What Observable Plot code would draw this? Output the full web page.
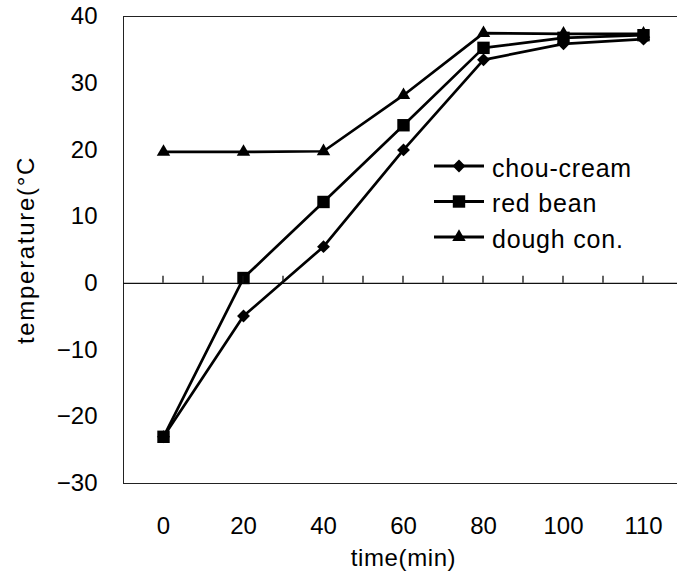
<!DOCTYPE html>
<html>
<head>
<meta charset="utf-8">
<script src="https://cdn.jsdelivr.net/npm/d3@7"></script>
<script src="https://cdn.jsdelivr.net/npm/@observablehq/plot@0.6"></script>
<style>
  html, body { margin: 0; padding: 0; background: white; }
</style>
</head>
<body>
<div id="chart"></div>
<script>
// ---- data ----
const times = ["0", "20", "40", "60", "80", "100", "110"];
const chouCream = [-23, -4.9, 5.5, 20.0, 33.5, 35.9, 36.6];
const redBean   = [-23, 0.8, 12.2, 23.7, 35.3, 36.8, 37.2];
const doughCon  = [19.7, 19.7, 19.8, 28.2, 37.5, 37.4, 37.4];
const seriesNames = ["chou-cream", "red bean", "dough con."];
const seriesSymbols = ["diamond2", "square", "triangle"];
const seriesRadius = [5.8, 7, 5];
const yTicks = [-30, -20, -10, 0, 10, 20, 30, 40];
const xLabel = "time(min)";
const yLabel = "temperature(°C";

const seriesValues = [chouCream, redBean, doughCon];
const rows = [];
seriesNames.forEach((name, s) => {
  seriesValues[s].forEach((v, i) => rows.push({series: name, i, value: v}));
});
const xIndex = d3.range(times.length);
// tick marks on the zero line: at each time and halfway between
const minorTicks = [];
for (let i = 0; i < times.length; i++) { minorTicks.push(i); minorTicks.push(i + 0.5); }

const font = "'Liberation Sans', Arial, Helvetica, sans-serif";

const marks = [
  Plot.frame({stroke: "#222", strokeWidth: 1}),
  Plot.ruleY([0], {stroke: "#111", strokeWidth: 1.3}),
  Plot.axisY(yTicks, {
    tickSize: 0, tickPadding: 26, fontSize: 24, label: null,
    tickFormat: d => d < 0 ? "\u2212" + Math.abs(d) : String(d)
  }),
  Plot.axisX(xIndex, {
    tickSize: 0, tickPadding: 33, fontSize: 24, label: null,
    tickFormat: i => times[i]
  }),
  Plot.text([yLabel], {frameAnchor: "left", text: d => d, rotate: -90, dx: -97, fontSize: 24, fill: "black", textAnchor: "middle", lineAnchor: "middle"}),
  Plot.text([xLabel], {frameAnchor: "bottom", text: d => d, dy: 74.5, fontSize: 24, fill: "black", textAnchor: "middle", lineAnchor: "middle"}),
  Plot.line(rows, {x: "i", y: "value", z: "series", stroke: "black", strokeWidth: 2.7}),
  ...seriesNames.map((name, s) =>
    Plot.dot(rows.filter(d => d.series === name), {
      x: "i", y: "value", symbol: () => seriesSymbols[s], r: seriesRadius[s], fill: "black", stroke: "none"
    })
  )
];

const plot = Plot.plot({
  width: 677,
  height: 577,
  marginLeft: 123,
  marginRight: -6,
  marginTop: 16,
  marginBottom: 94,
  style: {fontFamily: font, fontSize: "24px", background: "white", overflow: "hidden", color: "black"},
  x: {type: "linear", domain: [-0.5, times.length - 0.5], axis: null},
  y: {domain: [-30, 40], axis: null},
  symbol: {type: "identity"},
  marks
});

const svg = d3.select(plot);
svg.selectAll("text").filter(function() { return this.textContent === yLabel; })
  .attr("letter-spacing", "1.7px");
svg.selectAll("text").filter(function() { return this.textContent === xLabel; })
  .attr("letter-spacing", "0.6px");

// small upward ticks on the zero line, placed with the plot's own scales
const xs = plot.scale("x"), ys = plot.scale("y");
const y0 = ys.apply(0);
svg.append("g").attr("stroke", "#111").attr("stroke-width", 1.3)
  .selectAll("line").data(minorTicks).join("line")
  .attr("x1", d => xs.apply(d)).attr("x2", d => xs.apply(d))
  .attr("y1", y0).attr("y2", y0 - 7);

// legend (layout only)
const legend = svg.append("g").attr("font-family", font).attr("font-size", 25).attr("text-anchor", "start");
const symbolMap = {diamond2: d3.symbolDiamond2, square: d3.symbolSquare, triangle: d3.symbolTriangle};
seriesNames.forEach((name, s) => {
  const cy = 166 + s * 35.5;
  const g = legend.append("g").attr("transform", `translate(0,${cy})`);
  g.append("line").attr("x1", 434).attr("x2", 484).attr("y1", 0).attr("y2", 0)
    .attr("stroke", "black").attr("stroke-width", 3);
  g.append("path")
    .attr("d", d3.symbol(symbolMap[seriesSymbols[s]], Math.PI * seriesRadius[s] * seriesRadius[s])())
    .attr("transform", "translate(459,0)").attr("fill", "black");
  g.append("text").attr("x", 492).attr("y", 0).attr("dy", "0.42em")
    .attr("text-anchor", "start")
    .attr("letter-spacing", "0.8px").attr("fill", "black").text(name);
});

document.getElementById("chart").appendChild(plot);
</script>
</body>
</html>
